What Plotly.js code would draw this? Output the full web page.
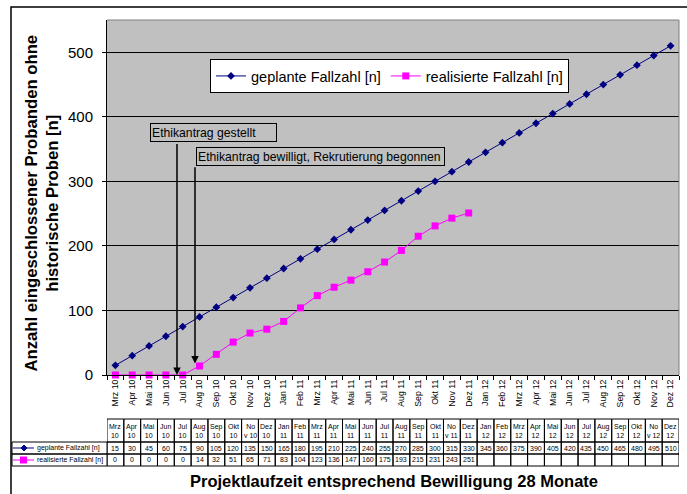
<!DOCTYPE html>
<html><head><meta charset="utf-8">
<script src="https://cdn.plot.ly/plotly-3.0.1.min.js"></script>
<style>html,body{margin:0;padding:0;background:#fff}#chart{width:687px;height:494px}</style>
</head><body><div id="chart"></div>
<script>
// ---- data ----
const months = ["Mrz 10","Apr 10","Mai 10","Jun 10","Jul 10","Aug 10","Sep 10","Okt 10","Nov 10","Dez 10",
  "Jan 11","Feb 11","Mrz 11","Apr 11","Mai 11","Jun 11","Jul 11","Aug 11","Sep 11","Okt 11","Nov 11","Dez 11",
  "Jan 12","Feb 12","Mrz 12","Apr 12","Mai 12","Jun 12","Jul 12","Aug 12","Sep 12","Okt 12","Nov 12","Dez 12"];
const geplant = [15,30,45,60,75,90,105,120,135,150,165,180,195,210,225,240,255,270,285,300,315,330,
  345,360,375,390,405,420,435,450,465,480,495,510];
const realisiert = [0,0,0,0,0,14,32,51,65,71,83,104,123,136,147,160,175,193,215,231,243,251];
const seriesNames = ["geplante Fallzahl [n]","realisierte Fallzahl [n]"];
const annoTexts = ["Ethikantrag gestellt","Ethikantrag bewilligt, Rekrutierung begonnen"];
const yTitle = "Anzahl eingeschlossener Probanden ohne<br>historische Proben [n]";
const xTitle = "Projektlaufzeit entsprechend Bewilligung 28 Monate";

// ---- geometry helpers (pixel -> paper) ----
const W = 687, H = 494, L = 107, R = 679, T = 20, B = 375;
const px = x => (x - L) / (R - L);
const py = y => (B - y) / (B - T);
const FONT = "Arial, 'Liberation Sans', sans-serif";
const BLUE = "#000080", MAG = "#FF00FF";

function headerLabel(m) {
  const p = m.split(" ");
  return p[0] === "Nov" ? "No<br>v " + p[1] : p[0] + "<br>" + p[1];
}

const traces = [
  {x: months, y: geplant, type: "scatter", mode: "lines+markers", name: seriesNames[0],
   line: {color: BLUE, width: 1}, marker: {symbol: "diamond", size: 6, color: BLUE}, cliponaxis: false},
  {x: months.slice(0, realisiert.length), y: realisiert, type: "scatter", mode: "lines+markers", name: seriesNames[1],
   line: {color: MAG, width: 1}, marker: {symbol: "square", size: 7, color: MAG}, cliponaxis: false}
];

const shapes = [];
const annotations = [];

// outer frame
shapes.push({type: "rect", xref: "paper", yref: "paper", x0: px(11), x1: px(720), y0: py(7), y1: py(530),
  line: {color: "#000", width: 1.5}});
// plot area border (top & right)
shapes.push({type: "line", xref: "paper", yref: "paper", x0: 0, x1: 1, y0: 1, y1: 1, line: {color: "#808080", width: 1}});
shapes.push({type: "line", xref: "paper", yref: "paper", x0: 1, x1: 1, y0: 0, y1: 1, line: {color: "#808080", width: 1}});

// data table
const rowH = [[419, 442], [442, 454], [454, 466]];
months.forEach((m, i) => {
  rowH.forEach(r => shapes.push({type: "rect", xref: "x", yref: "paper", x0: i - 0.5, x1: i + 0.5,
    y0: py(r[1]), y1: py(r[0]), line: {color: "#000", width: 1}}));
  annotations.push({xref: "x", yref: "paper", x: i, y: py(430.5), text: headerLabel(m), showarrow: false,
    font: {size: 7, family: FONT, color: "#000"}, xanchor: "center", yanchor: "middle"});
  annotations.push({xref: "x", yref: "paper", x: i, y: py(448), text: String(geplant[i]), showarrow: false,
    font: {size: 7, family: FONT, color: "#000"}, xanchor: "center", yanchor: "middle"});
  if (i < realisiert.length)
    annotations.push({xref: "x", yref: "paper", x: i, y: py(460), text: String(realisiert[i]), showarrow: false,
      font: {size: 7, family: FONT, color: "#000"}, xanchor: "center", yanchor: "middle"});
});
// key column
[[442, 454], [454, 466]].forEach(r => shapes.push({type: "rect", xref: "paper", yref: "paper", x0: px(12), x1: 0,
  y0: py(r[1]), y1: py(r[0]), line: {color: "#000", width: 1}}));
shapes.push({type: "line", xref: "paper", yref: "paper", x0: px(13), x1: px(34), y0: py(448), y1: py(448), line: {color: BLUE, width: 1}});
shapes.push({type: "path", xref: "paper", yref: "paper", xsizemode: "pixel", ysizemode: "pixel",
  xanchor: px(24), yanchor: py(448), path: "M0,-3 L3,0 L0,3 L-3,0 Z", fillcolor: BLUE, line: {color: BLUE, width: 1}});
shapes.push({type: "line", xref: "paper", yref: "paper", x0: px(13), x1: px(34), y0: py(460), y1: py(460), line: {color: MAG, width: 1}});
shapes.push({type: "rect", xref: "paper", yref: "paper", xsizemode: "pixel", ysizemode: "pixel",
  xanchor: px(23.5), yanchor: py(460), x0: -3.5, x1: 3.5, y0: -3.5, y1: 3.5, fillcolor: MAG, line: {color: MAG, width: 0}});
annotations.push({xref: "paper", yref: "paper", x: px(35), y: py(448), text: seriesNames[0], showarrow: false,
  xanchor: "left", yanchor: "middle", font: {size: 7, family: FONT, color: "#000"}});
annotations.push({xref: "paper", yref: "paper", x: px(35), y: py(460), text: seriesNames[1], showarrow: false,
  xanchor: "left", yanchor: "middle", font: {size: 7, family: FONT, color: "#000"}});

// text boxes
annotations.push({xref: "paper", yref: "paper", x: px(150), y: py(123), xanchor: "left", yanchor: "top",
  text: annoTexts[0], showarrow: false, align: "left", width: 123, height: 15,
  bgcolor: "#C0C0C0", bordercolor: "#000", borderwidth: 1, borderpad: 1,
  font: {size: 12.2, family: FONT, color: "#000"}});
annotations.push({xref: "paper", yref: "paper", x: px(196), y: py(147), xanchor: "left", yanchor: "top",
  text: annoTexts[1], showarrow: false, align: "left", width: 245, height: 15,
  bgcolor: "#C0C0C0", bordercolor: "#000", borderwidth: 1, borderpad: 1,
  font: {size: 12.2, family: FONT, color: "#000"}});
// arrows
annotations.push({xref: "x", yref: "y", x: 3.66, y: 0, axref: "x", ayref: "y", ax: 3.66, ay: 361,
  text: " ", font: {size: 1}, showarrow: true, arrowhead: 2, arrowsize: 1, arrowwidth: 1.5, arrowcolor: "#000"});
annotations.push({xref: "x", yref: "y", x: 4.73, y: 18, axref: "x", ayref: "y", ax: 4.73, ay: 325,
  text: " ", font: {size: 1}, showarrow: true, arrowhead: 2, arrowsize: 1, arrowwidth: 1.5, arrowcolor: "#000"});

// titles
annotations.push({xref: "paper", yref: "paper", x: px(41.5), y: py(203), text: "<b>" + yTitle + "</b>",
  textangle: -90, showarrow: false, xanchor: "center", yanchor: "middle",
  font: {size: 16.7, family: FONT, color: "#000"}});
annotations.push({xref: "paper", yref: "paper", x: px(393.5), y: py(481), text: "<b>" + xTitle + "</b>",
  showarrow: false, xanchor: "center", yanchor: "middle", font: {size: 16.5, family: FONT, color: "#000"}});

const layout = {
  width: W, height: H,
  margin: {l: L, r: W - R, t: T, b: H - B, pad: 0},
  paper_bgcolor: "#fff", plot_bgcolor: "#C0C0C0",
  font: {family: FONT, color: "#000"},
  showlegend: true,
  legend: {orientation: "h", x: px(389.5), xanchor: "center", y: py(59), yanchor: "top",
    bgcolor: "#fff", bordercolor: "#000", borderwidth: 1, font: {size: 14.5, family: FONT, color: "#000"}},
  xaxis: {type: "category", range: [-0.5, 33.5], tickson: "boundaries", ticks: "outside", ticklen: 4,
    tickcolor: "#000", showline: true, linecolor: "#000", linewidth: 1, showgrid: false, zeroline: false,
    tickangle: -90, tickfont: {size: 8.8, family: FONT, color: "#000"}, fixedrange: true},
  yaxis: {range: [0, 550], tick0: 0, dtick: 100, ticks: "outside", ticklen: 4, tickcolor: "#000",
    showline: true, linecolor: "#000", linewidth: 1, showgrid: true, gridcolor: "#000", gridwidth: 1,
    zeroline: false, tickfont: {size: 15, family: FONT, color: "#000"}, ticklabelstandoff: 6, fixedrange: true},
  shapes: shapes,
  annotations: annotations
};

Plotly.newPlot("chart", traces, layout, {staticPlot: true, displayModeBar: false});
</script>
</body></html>
